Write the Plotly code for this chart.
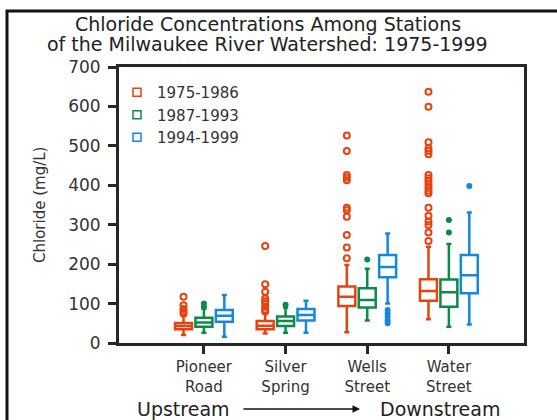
import plotly.graph_objects as go

# ---- data ----
stations = ["Pioneer<br>Road", "Silver<br>Spring", "Wells<br>Street", "Water<br>Street"]
periods = ["1975-1986", "1987-1993", "1994-1999"]

q1_1975 = [35, 35, 94, 107]
med_1975 = [43, 44, 117, 132]
q3_1975 = [51, 56, 143, 162]
lo_1975 = [20, 24, 27, 60]
hi_1975 = [70, 76, 198, 244]
out_1975 = [
    [75, 80, 86, 96, 117],
    [80, 84, 92, 101, 106, 113, 130, 149, 246],
    [215, 242, 274, 320, 337, 343, 413, 420, 426, 487, 526],
    [259, 280, 299, 308, 323, 343, 380, 386, 394, 402, 410, 418, 426, 479, 487, 494, 509, 599, 637],
]

q1_1987 = [41, 43, 90, 92]
med_1987 = [52, 56, 109, 129]
q3_1987 = [64, 67, 139, 161]
lo_1987 = [26, 26, 57, 41]
hi_1987 = [86, 90, 188, 251]
out_1987 = [[92, 100], [97], [212], [280, 312]]

q1_1994 = [54, 57, 167, 126]
med_1994 = [69, 71, 193, 172]
q3_1994 = [84, 86, 223, 223]
lo_1994 = [16, 26, 100, 47]
hi_1994 = [122, 107, 278, 331]
out_1994 = [[], [], [50, 58, 66, 75, 84], [398]]

y_ticks = [0, 100, 200, 300, 400, 500, 600, 700]

colors = ["#E8420F", "#0B8A48", "#1487DE"]
FONT = "DejaVu Sans"
AX = "#23282a"

stats = [
    (q1_1975, med_1975, q3_1975, lo_1975, hi_1975, out_1975),
    (q1_1987, med_1987, q3_1987, lo_1987, hi_1987, out_1987),
    (q1_1994, med_1994, q3_1994, lo_1994, hi_1994, out_1994),
]

fig = go.Figure()

for i, (q1, md, q3, lo, hi, outs) in enumerate(stats):
    fig.add_trace(go.Box(
        x=stations, q1=q1, median=md, q3=q3, lowerfence=lo, upperfence=hi,
        name=periods[i], offsetgroup=periods[i], showlegend=False,
        line=dict(color=colors[i], width=2.5), fillcolor="white",
        whiskerwidth=0.3, boxpoints=False, hoverinfo="skip",
    ))

for i, (q1, md, q3, lo, hi, outs) in enumerate(stats):
    xs, ys = [], []
    for s, vals in zip(stations, outs):
        for v in vals:
            xs.append(s)
            ys.append(v)
    if i == 0:
        marker = dict(symbol="circle-open", size=6, color=colors[i], line=dict(width=2, color=colors[i]))
    else:
        marker = dict(symbol="circle", size=6, color=colors[i])
    fig.add_trace(go.Scatter(
        x=xs, y=ys, mode="markers", marker=marker, offsetgroup=periods[i],
        showlegend=False, hoverinfo="skip",
    ))

for i, p in enumerate(periods):
    fig.add_trace(go.Scatter(
        x=[None], y=[None], mode="markers", name=p,
        marker=dict(symbol="square-open", size=8, color=colors[i], line=dict(width=1.5, color=colors[i])),
    ))

fig.update_layout(
    width=557, height=420,
    margin=dict(l=119, r=33, t=67, b=77),
    paper_bgcolor="white", plot_bgcolor="white",
    boxmode="group", boxgap=0.25, boxgroupgap=0.17,
    scattermode="group", scattergap=0.25,
    font=dict(family=FONT, color="#333333"),
    showlegend=True,
    legend=dict(x=(117 - 119) / 405, y=(343 - 76) / 276, xanchor="left", yanchor="top",
                bgcolor="rgba(0,0,0,0)", font=dict(size=15, color="#333333"),
                tracegroupgap=0, itemwidth=30),
    xaxis=dict(
        type="category", categoryorder="array", categoryarray=stations,
        range=[-1.04, 3.92], showgrid=False, zeroline=False,
        showline=True, linewidth=3, linecolor=AX, mirror=True,
        ticks="outside", ticklen=8, tickwidth=3, tickcolor=AX,
        tickfont=dict(size=15, color="#333333", family=FONT),
    ),
    yaxis=dict(
        range=[0, 700], tickvals=y_ticks, showgrid=False, zeroline=False,
        showline=True, linewidth=3, linecolor=AX, mirror=True,
        ticks="outside", ticklen=8, tickwidth=3, tickcolor=AX,
        tickfont=dict(size=17, color="#333333", family=FONT),
        ticklabelstandoff=4,
    ),
)

# titles and annotations
fig.add_annotation(text="Chloride Concentrations Among Stations", xref="paper", yref="paper",
                   x=(268 - 119) / 405, y=(343 - 24) / 276, showarrow=False,
                   font=dict(size=19, color="#222222"), xanchor="center", yanchor="middle")
fig.add_annotation(text="of the Milwaukee River Watershed: 1975-1999", xref="paper", yref="paper",
                   x=(267 - 119) / 405, y=(343 - 44) / 276, showarrow=False,
                   font=dict(size=19, color="#222222"), xanchor="center", yanchor="middle")
fig.add_annotation(text="Chloride (mg/L)", xref="paper", yref="paper",
                   x=(40 - 119) / 405, y=0.5, textangle=-90, showarrow=False,
                   font=dict(size=15, color="#333333"), xanchor="center", yanchor="middle")
fig.add_annotation(text="Upstream", xref="paper", yref="paper",
                   x=(183 - 119) / 405, y=(343 - 409) / 276, showarrow=False,
                   font=dict(size=19, color="#222222"), xanchor="center", yanchor="middle")
fig.add_annotation(text="Downstream", xref="paper", yref="paper",
                   x=(440 - 119) / 405, y=(343 - 409) / 276, showarrow=False,
                   font=dict(size=19, color="#222222"), xanchor="center", yanchor="middle")
fig.add_annotation(text="", xref="paper", yref="paper",
                   x=(360 - 119) / 405, y=(343 - 409) / 276, ax=-118, ay=0,
                   showarrow=True, arrowhead=2, arrowsize=1, arrowwidth=1.5, arrowcolor="#111111")

# outer frame
fig.add_shape(type="rect", xref="paper", yref="paper",
              x0=(7 - 119) / 405, x1=1.2, y0=-0.4, y1=(343 - 11) / 276,
              line=dict(color="#111111", width=3), layer="below")

fig.write_html("out.html", config={"displayModeBar": False},
               post_script="document.body.style.margin='0';")
